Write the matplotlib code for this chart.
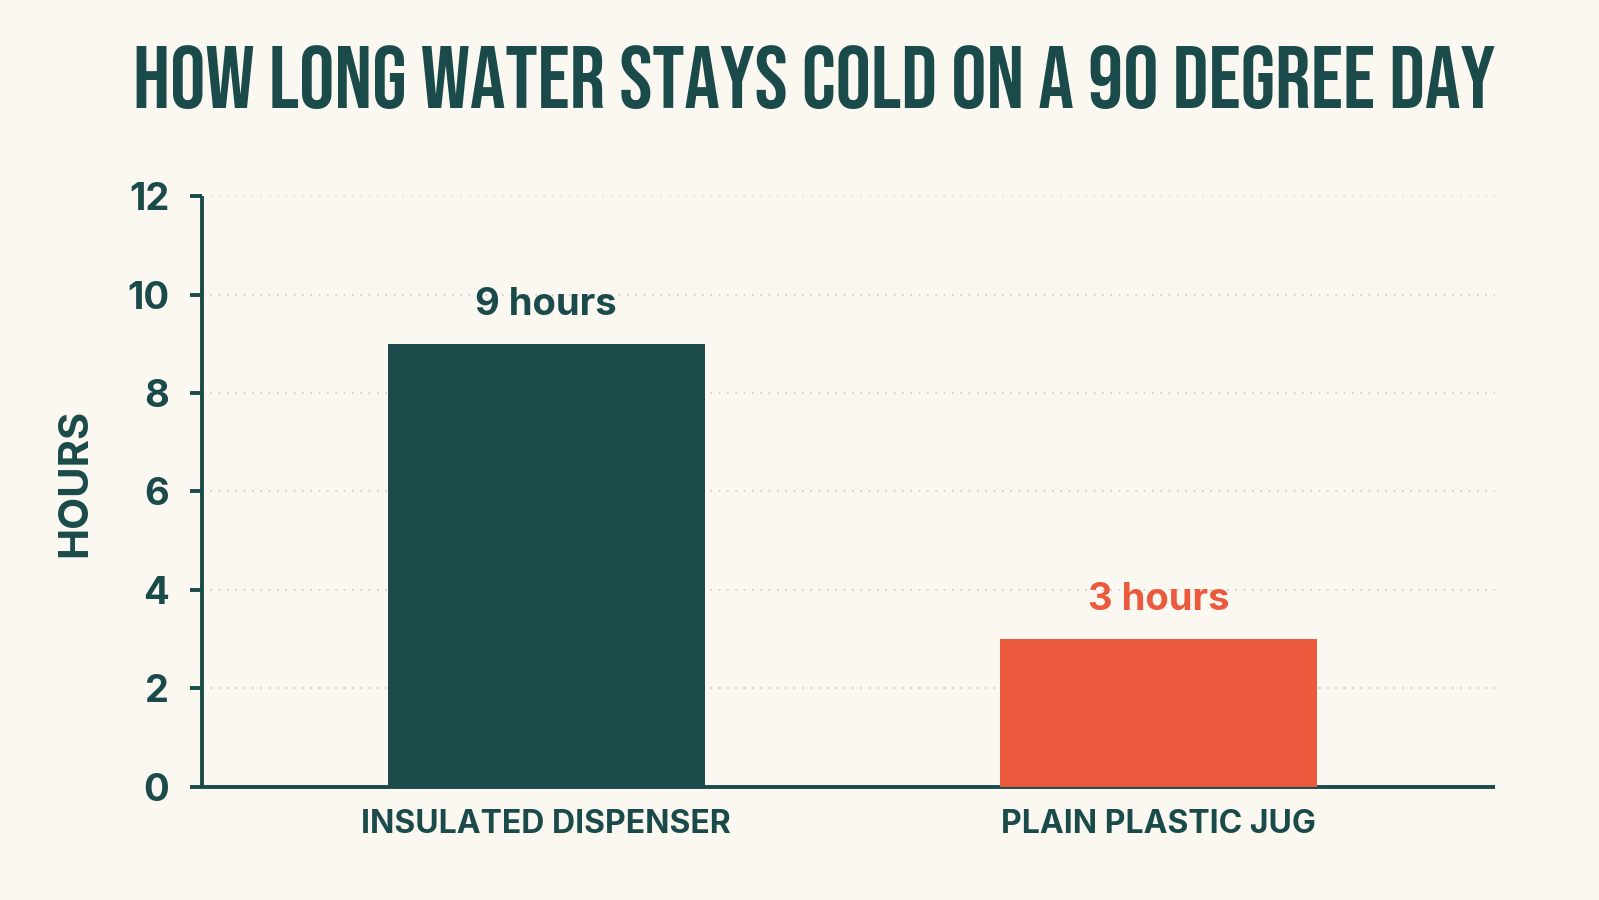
import matplotlib.pyplot as plt
from matplotlib import font_manager

categories = ['INSULATED DISPENSER', 'PLAIN PLASTIC JUG']
hours = [9, 3]
value_labels = ['9 hours', '3 hours']
y_ticks = [0, 2, 4, 6, 8, 10, 12]

teal = '#1A4B4A'
orange = '#EB5A3C'
bg = '#FBF8F1'
bar_colors = [teal, orange]

names = {f.name for f in font_manager.fontManager.ttflist}
title_font = [n for n in ['Bebas Neue', 'Oswald', 'Open Sans Condensed'] if n in names] + ['DejaVu Sans']
body_font = [n for n in ['Inter', 'Lato'] if n in names] + ['DejaVu Sans']

fig = plt.figure(figsize=(15.99, 9), dpi=100, facecolor=bg)
ax = fig.add_axes([0.1263, 0.1256, 0.8087, 0.6566])
ax.set_facecolor(bg)

x = list(range(len(categories)))
bars = ax.bar(x, hours, width=0.518, color=bar_colors, zorder=3)

for b, txt, c in zip(bars, value_labels, bar_colors):
    ax.annotate(txt, (b.get_x() + b.get_width() / 2, b.get_height()),
                xytext=(0, 15), textcoords='offset points', ha='center', va='bottom',
                fontsize=27.5, fontweight='bold', color=c, family=body_font)

ax.set_xlim(-0.562, 1.549)
ax.set_ylim(0, 12)
ax.set_yticks(y_ticks)
ax.set_yticklabels([str(v) for v in y_ticks], fontsize=27.5, fontweight='bold',
                   color=teal, family=body_font)
ax.set_xticks(x)
ax.set_xticklabels(categories, fontsize=23, fontweight='bold', color=teal, family=body_font)
ax.tick_params(axis='x', length=0, pad=16)
ax.tick_params(axis='y', length=8.5, width=2.8, color=teal, pad=15)

ax.grid(axis='y', linestyle=(0, (1, 4)), color='#CFCBC2', linewidth=1.2, zorder=0)
for s in ['top', 'right']:
    ax.spines[s].set_visible(False)
for s in ['left', 'bottom']:
    ax.spines[s].set_color(teal)
    ax.spines[s].set_linewidth(2.8)
    ax.spines[s].set_capstyle('butt')

ax.set_ylabel('HOURS', fontsize=30, fontweight='bold', color=teal, family=body_font,
              labelpad=24, y=0.515)

title = fig.text(0.509, 0.914, 'HOW LONG WATER STAYS COLD ON A 90 DEGREE DAY', ha='center', va='center',
                 fontsize=70, fontweight='bold', color=teal, family=title_font)
# fit the title to the width it takes in the reference
r = fig.canvas.get_renderer()
w = title.get_window_extent(r).width
title.set_fontsize(70 * 1364 / w)

fig.savefig('out.png', dpi=100, facecolor=bg)
